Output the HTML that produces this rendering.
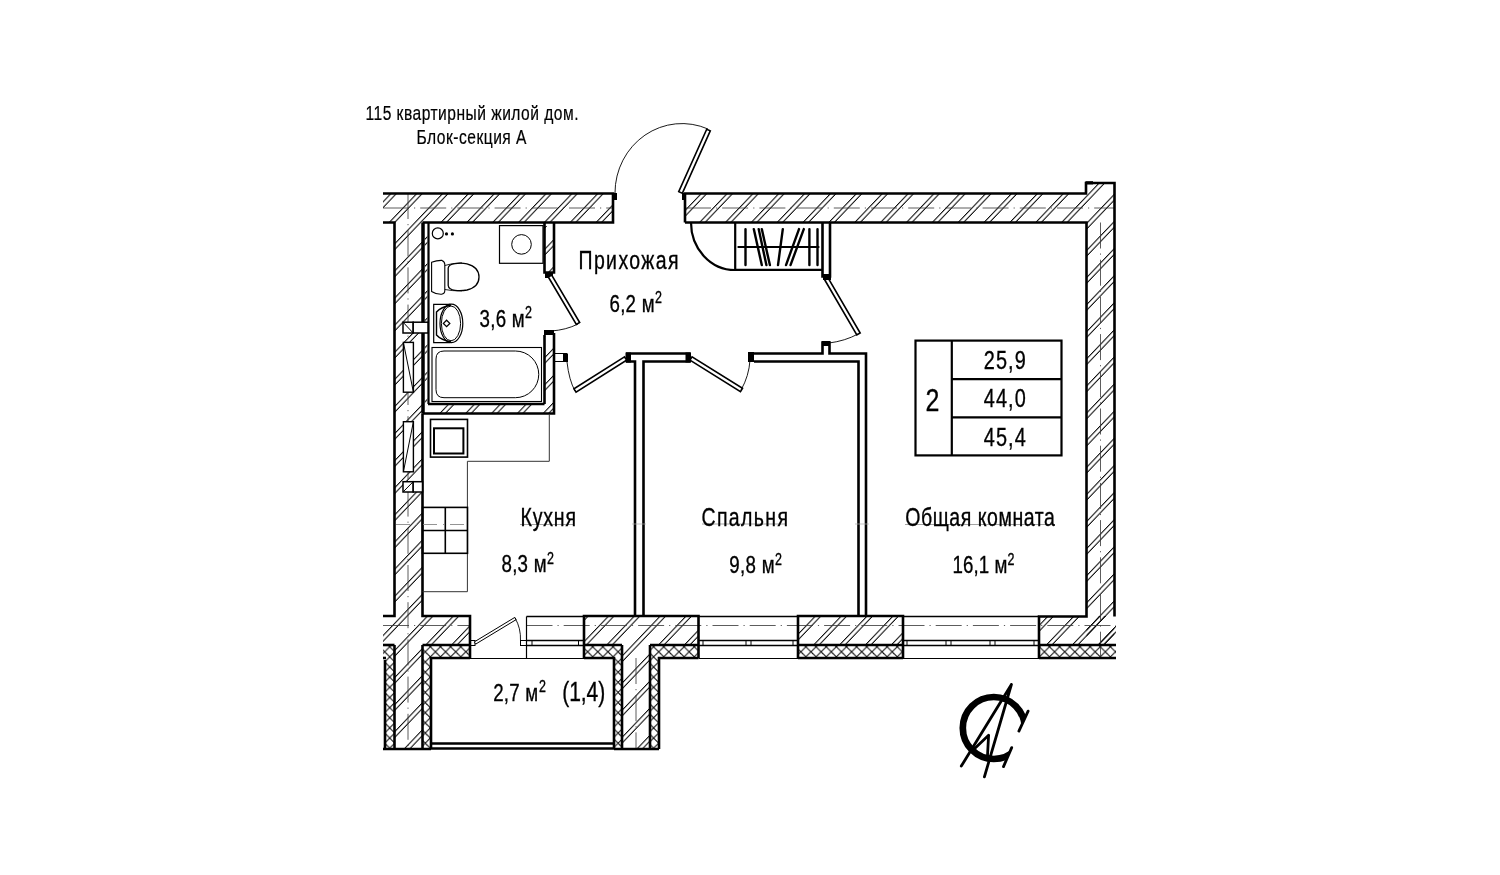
<!DOCTYPE html>
<html><head><meta charset="utf-8"><title>Plan</title>
<style>html,body{margin:0;padding:0;background:#fff;width:1500px;height:875px;overflow:hidden}svg{display:block;will-change:transform}</style>
</head><body>
<svg width="1500" height="875" viewBox="0 0 1500 875"><defs>
<pattern id="h" patternUnits="userSpaceOnUse" width="25.86" height="30" patternTransform="skewX(-43.651)"><line x1="-19.180" y1="-5" x2="-19.180" y2="35" stroke="#000" stroke-width="1.35"/><line x1="6.680" y1="-5" x2="6.680" y2="35" stroke="#000" stroke-width="1.35"/><line x1="32.540" y1="-5" x2="32.540" y2="35" stroke="#000" stroke-width="1.35"/><line x1="-13.680" y1="-5" x2="-13.680" y2="35" stroke="#000" stroke-width="1.35"/><line x1="12.180" y1="-5" x2="12.180" y2="35" stroke="#000" stroke-width="1.35"/><line x1="38.040" y1="-5" x2="38.040" y2="35" stroke="#000" stroke-width="1.35"/></pattern>
<pattern id="x" patternUnits="userSpaceOnUse" width="10.15" height="10.15"><line x1="-43.550000000000004" y1="-20" x2="6.449999999999996" y2="30" stroke="#000" stroke-width="0.95"/><line x1="-9.300000000000004" y1="-20" x2="-59.300000000000004" y2="30" stroke="#000" stroke-width="0.95"/><line x1="-33.4" y1="-20" x2="16.6" y2="30" stroke="#000" stroke-width="0.95"/><line x1="0.8499999999999979" y1="-20" x2="-49.150000000000006" y2="30" stroke="#000" stroke-width="0.95"/><line x1="-23.25" y1="-20" x2="26.75" y2="30" stroke="#000" stroke-width="0.95"/><line x1="11.0" y1="-20" x2="-39.0" y2="30" stroke="#000" stroke-width="0.95"/><line x1="-13.1" y1="-20" x2="36.9" y2="30" stroke="#000" stroke-width="0.95"/><line x1="21.15" y1="-20" x2="-28.85" y2="30" stroke="#000" stroke-width="0.95"/><line x1="-2.9499999999999993" y1="-20" x2="47.05" y2="30" stroke="#000" stroke-width="0.95"/><line x1="31.3" y1="-20" x2="-18.7" y2="30" stroke="#000" stroke-width="0.95"/><line x1="7.200000000000003" y1="-20" x2="57.2" y2="30" stroke="#000" stroke-width="0.95"/><line x1="41.45" y1="-20" x2="-8.55" y2="30" stroke="#000" stroke-width="0.95"/><line x1="17.35" y1="-20" x2="67.35" y2="30" stroke="#000" stroke-width="0.95"/><line x1="51.6" y1="-20" x2="1.6000000000000014" y2="30" stroke="#000" stroke-width="0.95"/></pattern>
</defs>
<polygon points="383,193.5 613,193.5 613,222.5 422.5,222.5 422.5,616 470,616 470,645 383,645 383,616 394.5,616 394.5,222.5 383,222.5" fill="url(#h)" stroke="#000" stroke-width="0" />
<polygon points="685,193.5 1086,193.5 1086,183 1114.5,183 1114.5,616.5 1086.5,616.5 1086.5,222.5 685,222.5" fill="url(#h)" stroke="#000" stroke-width="0" />
<polygon points="584,616 698.5,616 698.5,645 584,645" fill="url(#h)" stroke="#000" stroke-width="0" />
<polygon points="798,616 903,616 903,645 798,645" fill="url(#h)" stroke="#000" stroke-width="0" />
<polygon points="1039,616 1116,616 1116,645 1039,645" fill="url(#h)" stroke="#000" stroke-width="0" />
<polygon points="1086.5,616 1114.5,616 1114.5,645 1086.5,645" fill="url(#h)" stroke="#000" stroke-width="0" />
<polygon points="394.5,645 422.5,645 422.5,749 394.5,749" fill="url(#h)" stroke="#000" stroke-width="0" />
<polygon points="622,645 650,645 650,749 622,749" fill="url(#h)" stroke="#000" stroke-width="0" />
<polygon points="383,645 394.5,645 394.5,658 383,658" fill="url(#x)" stroke="#000" stroke-width="0" />
<polygon points="422.5,645 470,645 470,658 422.5,658" fill="url(#x)" stroke="#000" stroke-width="0" />
<polygon points="584,645 622,645 622,658 584,658" fill="url(#x)" stroke="#000" stroke-width="0" />
<polygon points="650,645 698.5,645 698.5,658 650,658" fill="url(#x)" stroke="#000" stroke-width="0" />
<polygon points="798,645 903,645 903,658 798,658" fill="url(#x)" stroke="#000" stroke-width="0" />
<polygon points="1039,645 1116,645 1116,658 1039,658" fill="url(#x)" stroke="#000" stroke-width="0" />
<polygon points="385,658 394.5,658 394.5,749 385,749" fill="url(#x)" stroke="#000" stroke-width="0" />
<polygon points="422.5,658 431,658 431,749 422.5,749" fill="url(#x)" stroke="#000" stroke-width="0" />
<polygon points="614,658 622,658 622,749 614,749" fill="url(#x)" stroke="#000" stroke-width="0" />
<polygon points="650,658 659,658 659,749 650,749" fill="url(#x)" stroke="#000" stroke-width="0" />
<line x1="383" y1="208" x2="613" y2="208" stroke="#333" stroke-width="0.8" stroke-dasharray="26 5 1.2 5"/>
<line x1="685" y1="208" x2="1114" y2="208" stroke="#333" stroke-width="0.8" stroke-dasharray="26 5 1.2 5"/>
<line x1="408" y1="193" x2="408" y2="749" stroke="#333" stroke-width="0.8" stroke-dasharray="26 5 1.2 5"/>
<line x1="1100.5" y1="222.5" x2="1100.5" y2="658" stroke="#333" stroke-width="0.8" stroke-dasharray="26 5 1.2 5"/>
<line x1="383" y1="625.5" x2="470" y2="625.5" stroke="#333" stroke-width="0.8" stroke-dasharray="26 5 1.2 5"/>
<line x1="526.5" y1="625.5" x2="1116" y2="625.5" stroke="#333" stroke-width="0.8" stroke-dasharray="26 5 1.2 5"/>
<line x1="636" y1="658" x2="636" y2="749" stroke="#333" stroke-width="0.8" stroke-dasharray="26 5 1.2 5"/>
<polyline points="383,193.5 613,193.5 613,222.5 422.5,222.5" fill="none" stroke="#000" stroke-width="2.6" stroke-linejoin="miter" />
<polyline points="383,222.5 394.5,222.5 394.5,616 383,616" fill="none" stroke="#000" stroke-width="2.6" stroke-linejoin="miter" />
<polyline points="422.5,413.5 422.5,616 470,616 470,658" fill="none" stroke="#000" stroke-width="2.6" stroke-linejoin="miter" />
<polyline points="685,222.5 685,193.5 1086,193.5 1086,183 1114.5,183 1114.5,616.5" fill="none" stroke="#000" stroke-width="2.6" stroke-linejoin="miter" />
<polyline points="685,222.5 1086.5,222.5 1086.5,616.5 1039,616.5 1039,658" fill="none" stroke="#000" stroke-width="2.6" stroke-linejoin="miter" />
<polyline points="584,658 584,616 698.5,616 698.5,658" fill="none" stroke="#000" stroke-width="2.6" stroke-linejoin="miter" />
<polyline points="798,658 798,616 903,616 903,658" fill="none" stroke="#000" stroke-width="2.6" stroke-linejoin="miter" />
<line x1="383" y1="645" x2="394.5" y2="645" stroke="#000" stroke-width="2.6" />
<line x1="422.5" y1="645" x2="470" y2="645" stroke="#000" stroke-width="2.6" />
<line x1="584" y1="645" x2="622" y2="645" stroke="#000" stroke-width="2.6" />
<line x1="650" y1="645" x2="698.5" y2="645" stroke="#000" stroke-width="2.6" />
<line x1="798" y1="645" x2="903" y2="645" stroke="#000" stroke-width="2.6" />
<line x1="1039" y1="645" x2="1116" y2="645" stroke="#000" stroke-width="2.6" />
<polyline points="383,658 386,658" fill="none" stroke="#000" stroke-width="2.6" stroke-linejoin="miter" />
<polyline points="431,749 431,658 470,658" fill="none" stroke="#000" stroke-width="2.6" stroke-linejoin="miter" />
<polyline points="584,658 614,658 614,749" fill="none" stroke="#000" stroke-width="2.6" stroke-linejoin="miter" />
<polyline points="659,749 659,658 698.5,658" fill="none" stroke="#000" stroke-width="2.6" stroke-linejoin="miter" />
<line x1="798" y1="658" x2="903" y2="658" stroke="#000" stroke-width="2.6" />
<line x1="1039" y1="658" x2="1116" y2="658" stroke="#000" stroke-width="2.6" />
<line x1="394.5" y1="645" x2="394.5" y2="749" stroke="#000" stroke-width="2.6" />
<line x1="422.5" y1="645" x2="422.5" y2="749" stroke="#000" stroke-width="2.6" />
<line x1="622" y1="645" x2="622" y2="749" stroke="#000" stroke-width="2.6" />
<line x1="650" y1="645" x2="650" y2="749" stroke="#000" stroke-width="2.6" />
<line x1="385" y1="660" x2="385" y2="749" stroke="#000" stroke-width="2.6" />
<polyline points="383,749 431,749" fill="none" stroke="#000" stroke-width="2.6" stroke-linejoin="miter" />
<polyline points="614,749 659,749" fill="none" stroke="#000" stroke-width="2.6" stroke-linejoin="miter" />
<line x1="431" y1="743.5" x2="614" y2="743.5" stroke="#000" stroke-width="2.6" />
<line x1="431" y1="748.5" x2="614" y2="748.5" stroke="#000" stroke-width="2.6" />
<line x1="470" y1="658.5" x2="584" y2="658.5" stroke="#000" stroke-width="1.2" />
<line x1="698.5" y1="658.5" x2="798" y2="658.5" stroke="#000" stroke-width="1.2" />
<line x1="903" y1="658.5" x2="1039" y2="658.5" stroke="#000" stroke-width="1.2" />
<line x1="526.5" y1="616.5" x2="584" y2="616.5" stroke="#000" stroke-width="1.6" />
<line x1="526.5" y1="640.5" x2="584" y2="640.5" stroke="#000" stroke-width="1.6" />
<line x1="526.5" y1="645.5" x2="584" y2="645.5" stroke="#000" stroke-width="1.6" />
<line x1="698.5" y1="616.5" x2="798" y2="616.5" stroke="#000" stroke-width="1.6" />
<line x1="698.5" y1="640.5" x2="798" y2="640.5" stroke="#000" stroke-width="1.6" />
<line x1="698.5" y1="645.5" x2="798" y2="645.5" stroke="#000" stroke-width="1.6" />
<line x1="903" y1="616.5" x2="1039" y2="616.5" stroke="#000" stroke-width="1.6" />
<line x1="903" y1="640.5" x2="1039" y2="640.5" stroke="#000" stroke-width="1.6" />
<line x1="903" y1="645.5" x2="1039" y2="645.5" stroke="#000" stroke-width="1.6" />
<line x1="526.5" y1="616.5" x2="526.5" y2="658" stroke="#000" stroke-width="1.2" />
<line x1="526.5" y1="640.5" x2="526.5" y2="645.5" stroke="#000" stroke-width="1.0" />
<line x1="532" y1="640.5" x2="532" y2="645.5" stroke="#000" stroke-width="1.0" />
<line x1="578.5" y1="640.5" x2="578.5" y2="645.5" stroke="#000" stroke-width="1.0" />
<line x1="584" y1="640.5" x2="584" y2="645.5" stroke="#000" stroke-width="1.0" />
<line x1="698.5" y1="640.5" x2="698.5" y2="645.5" stroke="#000" stroke-width="1.0" />
<line x1="703" y1="640.5" x2="703" y2="645.5" stroke="#000" stroke-width="1.0" />
<line x1="746" y1="640.5" x2="746" y2="645.5" stroke="#000" stroke-width="1.0" />
<line x1="751" y1="640.5" x2="751" y2="645.5" stroke="#000" stroke-width="1.0" />
<line x1="793" y1="640.5" x2="793" y2="645.5" stroke="#000" stroke-width="1.0" />
<line x1="798" y1="640.5" x2="798" y2="645.5" stroke="#000" stroke-width="1.0" />
<line x1="903" y1="640.5" x2="903" y2="645.5" stroke="#000" stroke-width="1.0" />
<line x1="907" y1="640.5" x2="907" y2="645.5" stroke="#000" stroke-width="1.0" />
<line x1="946" y1="640.5" x2="946" y2="645.5" stroke="#000" stroke-width="1.0" />
<line x1="951" y1="640.5" x2="951" y2="645.5" stroke="#000" stroke-width="1.0" />
<line x1="990" y1="640.5" x2="990" y2="645.5" stroke="#000" stroke-width="1.0" />
<line x1="995" y1="640.5" x2="995" y2="645.5" stroke="#000" stroke-width="1.0" />
<line x1="1034" y1="640.5" x2="1034" y2="645.5" stroke="#000" stroke-width="1.0" />
<line x1="1039" y1="640.5" x2="1039" y2="645.5" stroke="#000" stroke-width="1.0" />
<rect x="470" y="640.5" width="5" height="5" fill="none" stroke="#000" stroke-width="1.0" />
<polygon points="475.67,644.11 516.17,619.61 514.83,617.39 474.33,641.89" fill="#fff" stroke="#000" stroke-width="1.0"/>
<path d="M515,618 Q521,628 520.5,641" fill="none" stroke="#000" stroke-width="0.9"/>
<rect x="520.5" y="640.5" width="6" height="5" fill="none" stroke="#000" stroke-width="1.0" />
<polyline points="544.5,222.5 544.5,272.5 554,272.5 554,222.5" fill="none" stroke="#000" stroke-width="2.6" stroke-linejoin="miter" />
<line x1="544.5" y1="335" x2="544.5" y2="404" stroke="#000" stroke-width="2.6" />
<polyline points="554,333 554,413.5 422.5,413.5" fill="none" stroke="#000" stroke-width="2.6" stroke-linejoin="miter" />
<line x1="428" y1="404" x2="544.5" y2="404" stroke="#000" stroke-width="2.6" />
<polygon points="428,404 554,404 554,413.5 428,413.5" fill="url(#h)" stroke="#000" stroke-width="0" />
<rect x="544" y="330" width="10" height="5" fill="#000"/>
<polygon points="545,226 553,226 553,272 545,272" fill="url(#h)" stroke="#000" stroke-width="0" />
<polygon points="545,336 553,336 553,404 545,404" fill="url(#h)" stroke="#000" stroke-width="0" />
<polygon points="424.8,222.5 427.4,222.5 427.4,404 424.8,404" fill="url(#h)" stroke="#000" stroke-width="0" />
<line x1="423" y1="222.5" x2="423" y2="413.5" stroke="#000" stroke-width="3.5" />
<line x1="428.5" y1="222.5" x2="428.5" y2="404" stroke="#000" stroke-width="2.2" />
<rect x="545" y="273" width="8" height="5" fill="#000"/>
<polygon points="548.32,276.99 576.32,324.49 579.68,322.51 551.68,275.01" fill="#fff" stroke="#000" stroke-width="1.6"/>
<path d="M578,324 Q566,330 551,331" fill="none" stroke="#000" stroke-width="0.9"/>
<polyline points="626,353.5 690.5,353.5" fill="none" stroke="#000" stroke-width="2.6" stroke-linejoin="miter" />
<polyline points="626,361.5 635,361.5 635,616" fill="none" stroke="#000" stroke-width="2.6" stroke-linejoin="miter" />
<polyline points="690.5,361.5 643.5,361.5 643.5,616" fill="none" stroke="#000" stroke-width="2.6" stroke-linejoin="miter" />
<rect x="625.5" y="352.5" width="5.5" height="10" fill="#000"/>
<rect x="685.5" y="352.5" width="5.5" height="10" fill="#000"/>
<rect x="554" y="353.5" width="13" height="8" fill="none" stroke="#000" stroke-width="1.0" />
<rect x="563" y="354" width="5" height="8" fill="#000"/>
<polygon points="624.46,356.85 573.96,388.85 576.04,392.15 626.54,360.15" fill="#fff" stroke="#000" stroke-width="1.6"/>
<path d="M567,362 Q569,380 575,391" fill="none" stroke="#000" stroke-width="0.9"/>
<polygon points="689.97,360.15 740.47,391.65 742.53,388.35 692.03,356.85" fill="#fff" stroke="#000" stroke-width="1.6"/>
<path d="M741,390 Q749,376 750,360" fill="none" stroke="#000" stroke-width="0.9"/>
<rect x="748" y="352" width="6" height="10" fill="#000"/>
<polyline points="754,353.5 822.5,353.5 822.5,342.5 829.5,342.5 829.5,353.5 866,353.5 866,616" fill="none" stroke="#000" stroke-width="2.6" stroke-linejoin="miter" />
<polyline points="754,361.5 858.5,361.5 858.5,616" fill="none" stroke="#000" stroke-width="2.6" stroke-linejoin="miter" />
<rect x="822" y="341" width="8" height="5" fill="#000"/>
<rect x="823" y="274" width="8" height="6" fill="#000"/>
<polygon points="824.81,279.98 856.81,334.98 860.19,333.02 828.19,278.02" fill="#fff" stroke="#000" stroke-width="1.6"/>
<path d="M858,334 Q845,341 829,343" fill="none" stroke="#000" stroke-width="0.9"/>
<polyline points="822.5,222.5 822.5,276.5 830,276.5 830,222.5" fill="none" stroke="#000" stroke-width="2.6" stroke-linejoin="miter" />
<rect x="823" y="274" width="8" height="6" fill="#000"/>
<polyline points="735.2,222.5 735.2,269.8 822.5,269.8" fill="none" stroke="#000" stroke-width="2.2" stroke-linejoin="miter" />
<path d="M691,222.5 A44,47.5 0 0 0 735.2,270" fill="none" stroke="#000" stroke-width="2.2"/>
<line x1="738.4" y1="247" x2="818.5" y2="247" stroke="#000" stroke-width="2.2" stroke-linecap="round"/>
<line x1="745.5" y1="229.1" x2="745.5" y2="265.1" stroke="#000" stroke-width="2.4" stroke-linecap="round"/>
<line x1="753.8" y1="229.1" x2="761.8" y2="265.1" stroke="#000" stroke-width="2.4" stroke-linecap="round"/>
<line x1="758.7" y1="229.1" x2="766.4" y2="265.1" stroke="#000" stroke-width="2.4" stroke-linecap="round"/>
<line x1="761.8" y1="229.1" x2="769.9" y2="265.1" stroke="#000" stroke-width="2.4" stroke-linecap="round"/>
<line x1="782.8" y1="229.1" x2="778" y2="265.1" stroke="#000" stroke-width="2.4" stroke-linecap="round"/>
<line x1="799" y1="229.1" x2="786" y2="265.1" stroke="#000" stroke-width="2.4" stroke-linecap="round"/>
<line x1="803.8" y1="229.1" x2="790.5" y2="265.1" stroke="#000" stroke-width="2.4" stroke-linecap="round"/>
<line x1="809.4" y1="229.1" x2="809.4" y2="265.1" stroke="#000" stroke-width="2.4" stroke-linecap="round"/>
<line x1="817.5" y1="229.1" x2="817.5" y2="265.1" stroke="#000" stroke-width="2.4" stroke-linecap="round"/>
<rect x="613" y="193" width="4" height="7" fill="#000"/>
<rect x="682" y="193" width="4" height="7" fill="#000"/>
<polygon points="682.28,193.30 710.28,130.80 706.72,129.20 678.72,191.70" fill="#fff" stroke="#000" stroke-width="1.6"/>
<path d="M708,129 A67,69.5 0 0 0 615,193" fill="none" stroke="#000" stroke-width="0.9"/>
<rect x="499.5" y="225.6" width="43.5" height="37.7" fill="none" stroke="#000" stroke-width="1.2" />
<circle cx="521.5" cy="244.4" r="9.8" fill="none" stroke="#000" stroke-width="1"/>
<path d="M431.6,262.3 Q437,260.2 442,260.4 Q444.8,261.5 444.8,264.5 L444.8,290.8 Q444.8,293.8 441.5,294.2 Q436,294.4 431.6,291.5 Z" fill="none" stroke="#000" stroke-width="1.1"/>
<path d="M444.8,265.5 Q452,263 462,262.9 M444.8,289.5 Q452,291 462,290.9" fill="none" stroke="#000" stroke-width="0.9"/>
<path d="M448.2,268 Q448.6,264.5 455,263.6 Q461,262.6 467,263.8 Q479,267 479,277 Q479,287 467,290 Q461,291.2 455,290.4 Q448.6,289.5 448.2,285.5 Z" fill="none" stroke="#000" stroke-width="1.3"/>
<circle cx="437.8" cy="233.4" r="5.5" fill="none" stroke="#000" stroke-width="1.2"/>
<circle cx="446.5" cy="233.9" r="1.6" fill="#000"/><circle cx="452.4" cy="233.9" r="1.6" fill="#000"/>
<path d="M450.5,304.4 L433.7,304.4 L433.7,342.6 L450.5,342.6" fill="none" stroke="#000" stroke-width="1.2"/>
<ellipse cx="451.4" cy="323.4" rx="11.4" ry="19.2" fill="none" stroke="#000" stroke-width="1.2"/>
<ellipse cx="451" cy="323.4" rx="9.6" ry="17.4" fill="none" stroke="#000" stroke-width="1.0"/>
<path d="M451,305 Q441,307 436.5,312 L436.5,335 Q441,340 451,342" fill="none" stroke="#000" stroke-width="1.4"/>
<path d="M446.6,320.2 L449.8,323.4 L446.6,326.6 L443.4,323.4 Z" fill="none" stroke="#000" stroke-width="1.3"/>
<rect x="432" y="347.5" width="109.5" height="54" fill="none" stroke="#000" stroke-width="1.1" />
<path d="M444,351 L515.4,351 A23.35,23.35 0 0 1 515.4,397.7 L444,397.7 Q436,397.7 436,389.7 L436,359 Q436,351 444,351 Z" fill="none" stroke="#000" stroke-width="1"/>
<rect x="403" y="322.2" width="10.2" height="10.8" fill="#fff" stroke="#000" stroke-width="1.5" />
<rect x="413.2" y="322.2" width="14.8" height="10.8" fill="#fff" stroke="#000" stroke-width="1.5" />
<line x1="403" y1="322.2" x2="413.2" y2="333" stroke="#000" stroke-width="1.0" />
<rect x="403.4" y="342.4" width="10" height="49.8" fill="#fff" stroke="#000" stroke-width="1.4" />
<line x1="403.4" y1="342.4" x2="413.4" y2="392.2" stroke="#000" stroke-width="1.0" />
<rect x="403.4" y="421.7" width="10" height="50.1" fill="#fff" stroke="#000" stroke-width="1.4" />
<line x1="403.4" y1="471.8" x2="413.4" y2="421.7" stroke="#000" stroke-width="1.0" />
<rect x="403" y="481.7" width="10.2" height="10.3" fill="#fff" stroke="#000" stroke-width="1.5" />
<rect x="413.2" y="481.7" width="9.3" height="10.3" fill="#fff" stroke="#000" stroke-width="1.5" />
<line x1="403" y1="492" x2="413.2" y2="481.7" stroke="#000" stroke-width="1.0" />
<rect x="430.5" y="419.4" width="37" height="37.7" fill="none" stroke="#000" stroke-width="1.6" />
<rect x="434" y="428.3" width="29.4" height="25.2" fill="none" stroke="#000" stroke-width="2.0" />
<polyline points="467.4,461.3 549.3,461.3 549.3,414" fill="none" stroke="#333" stroke-width="1.0" stroke-linejoin="miter" />
<polyline points="467.4,461.3 467.4,591.7 422.5,591.7" fill="none" stroke="#333" stroke-width="1.0" stroke-linejoin="miter" />
<rect x="422.5" y="507.4" width="45" height="45.9" fill="none" stroke="#000" stroke-width="1.6" />
<line x1="445.3" y1="507.4" x2="445.3" y2="553.3" stroke="#000" stroke-width="1.6" />
<line x1="422.5" y1="530.5" x2="467.5" y2="530.5" stroke="#000" stroke-width="1.6" />
<rect x="915.5" y="340.6" width="146" height="114.8" fill="none" stroke="#000" stroke-width="2.2" />
<line x1="951.8" y1="340.6" x2="951.8" y2="455.4" stroke="#000" stroke-width="2.2" />
<line x1="951.8" y1="379.1" x2="1061.5" y2="379.1" stroke="#000" stroke-width="2.2" />
<line x1="951.8" y1="417.3" x2="1061.5" y2="417.3" stroke="#000" stroke-width="2.2" />
<clipPath id="cc"><polygon points="930,660 1050.3,660 1018.9,731.1 1011.7,747.6 993.4,790 930,790"/></clipPath>
<circle cx="993.8" cy="728" r="31" fill="none" stroke="#000" stroke-width="6.7" clip-path="url(#cc)"/>
<path d="M1011.4,684.5 L961.3,766.1 M1011.4,684.5 L984.4,776.9" fill="none" stroke="#000" stroke-width="2.8" stroke-linecap="round"/>
<path d="M1028.1,711.1 L1018.9,731.1 M1011.7,747.6 L1003.5,766.6 M974.7,748.6 L988.6,735.2 L987.5,755.8" fill="none" stroke="#000" stroke-width="2.8" stroke-linecap="round" stroke-linejoin="round"/>
<rect x="1085.5" y="181.2" width="7.5" height="3.2" fill="#000"/>
<line x1="632" y1="524" x2="646" y2="524" stroke="#aaa" stroke-width="0.7" />
<line x1="855" y1="524" x2="869" y2="524" stroke="#aaa" stroke-width="0.7" />
<line x1="702" y1="524" x2="786" y2="524" stroke="#999" stroke-width="0.9" />
<line x1="905" y1="524.5" x2="1054" y2="524.5" stroke="#999" stroke-width="0.9" />
<line x1="520" y1="524.5" x2="574" y2="524.5" stroke="#999" stroke-width="0.9" />
<line x1="396" y1="524.5" x2="470" y2="524.5" stroke="#888" stroke-width="0.9" stroke-dasharray="14 6 1 6"/>
<g font-family="Liberation Sans, sans-serif" fill="#000">
<text transform="translate(365.5,119.8) scale(0.8,1)" x="0" y="0" font-size="19.5" text-anchor="start" stroke="#000" stroke-width="0.2" textLength="266.25" lengthAdjust="spacing">115 квартирный жилой дом.</text>
<text transform="translate(416.5,143.8) scale(0.8,1)" x="0" y="0" font-size="19.5" text-anchor="start" stroke="#000" stroke-width="0.2" textLength="137.50" lengthAdjust="spacing">Блок-секция А</text>
<text transform="translate(578.5,268.8) scale(0.78,1)" x="0" y="0" font-size="25" text-anchor="start" stroke="#000" stroke-width="0.35" textLength="128.21" lengthAdjust="spacing">Прихожая</text>
<text transform="translate(609.5,311.7) scale(0.78,1)" x="0" y="0" font-size="24" text-anchor="start" stroke="#000" stroke-width="0.35" textLength="57.69" lengthAdjust="spacing">6,2 м</text>
<text transform="translate(655,303) scale(0.78,1)" x="0" y="0" font-size="16" text-anchor="start" stroke="#000" stroke-width="0.35" textLength="10.26" lengthAdjust="spacing">2</text>
<text transform="translate(479.6,327.1) scale(0.78,1)" x="0" y="0" font-size="24" text-anchor="start" stroke="#000" stroke-width="0.35" textLength="57.69" lengthAdjust="spacing">3,6 м</text>
<text transform="translate(525,318.4) scale(0.78,1)" x="0" y="0" font-size="16" text-anchor="start" stroke="#000" stroke-width="0.35" textLength="10.26" lengthAdjust="spacing">2</text>
<text transform="translate(520.5,526) scale(0.78,1)" x="0" y="0" font-size="25" text-anchor="start" stroke="#000" stroke-width="0.35" textLength="71.15" lengthAdjust="spacing">Кухня</text>
<text transform="translate(501.5,572.3) scale(0.78,1)" x="0" y="0" font-size="24" text-anchor="start" stroke="#000" stroke-width="0.35" textLength="57.69" lengthAdjust="spacing">8,3 м</text>
<text transform="translate(547,563.6) scale(0.78,1)" x="0" y="0" font-size="16" text-anchor="start" stroke="#000" stroke-width="0.35" textLength="10.26" lengthAdjust="spacing">2</text>
<text transform="translate(701.5,525.9) scale(0.78,1)" x="0" y="0" font-size="25" text-anchor="start" stroke="#000" stroke-width="0.35" textLength="110.90" lengthAdjust="spacing">Спальня</text>
<text transform="translate(729.2,572.7) scale(0.78,1)" x="0" y="0" font-size="24" text-anchor="start" stroke="#000" stroke-width="0.35" textLength="58.33" lengthAdjust="spacing">9,8 м</text>
<text transform="translate(775,564.6) scale(0.78,1)" x="0" y="0" font-size="16" text-anchor="start" stroke="#000" stroke-width="0.35" textLength="10.26" lengthAdjust="spacing">2</text>
<text transform="translate(905.3,525.8) scale(0.78,1)" x="0" y="0" font-size="25" text-anchor="start" stroke="#000" stroke-width="0.35" textLength="191.67" lengthAdjust="spacing">Общая комната</text>
<text transform="translate(952.5,573.2) scale(0.78,1)" x="0" y="0" font-size="24" text-anchor="start" stroke="#000" stroke-width="0.35" textLength="70.51" lengthAdjust="spacing">16,1 м</text>
<text transform="translate(1007.5,564.6) scale(0.78,1)" x="0" y="0" font-size="16" text-anchor="start" stroke="#000" stroke-width="0.35" textLength="10.26" lengthAdjust="spacing">2</text>
<text transform="translate(493.2,701) scale(0.78,1)" x="0" y="0" font-size="24" text-anchor="start" stroke="#000" stroke-width="0.35" textLength="57.69" lengthAdjust="spacing">2,7 м</text>
<text transform="translate(539,692.3) scale(0.78,1)" x="0" y="0" font-size="16" text-anchor="start" stroke="#000" stroke-width="0.35" textLength="10.26" lengthAdjust="spacing">2</text>
<text transform="translate(562.2,700.5) scale(0.78,1)" x="0" y="0" font-size="27" text-anchor="start" stroke="#000" stroke-width="0.35" textLength="55.13" lengthAdjust="spacing">(1,4)</text>
<text transform="translate(983.8,368.8) scale(0.78,1)" x="0" y="0" font-size="25.5" text-anchor="start" stroke="#000" stroke-width="0.35" textLength="53.85" lengthAdjust="spacing">25,9</text>
<text transform="translate(983.8,406.5) scale(0.78,1)" x="0" y="0" font-size="25.5" text-anchor="start" stroke="#000" stroke-width="0.35" textLength="53.85" lengthAdjust="spacing">44,0</text>
<text transform="translate(983.8,446) scale(0.78,1)" x="0" y="0" font-size="25.5" text-anchor="start" stroke="#000" stroke-width="0.35" textLength="53.85" lengthAdjust="spacing">45,4</text>
<text transform="translate(925.5,410.8) scale(0.78,1)" x="0" y="0" font-size="32" text-anchor="start" stroke="#000" stroke-width="0.35" textLength="19.23" lengthAdjust="spacing">2</text>
</g></svg>
</body></html>
